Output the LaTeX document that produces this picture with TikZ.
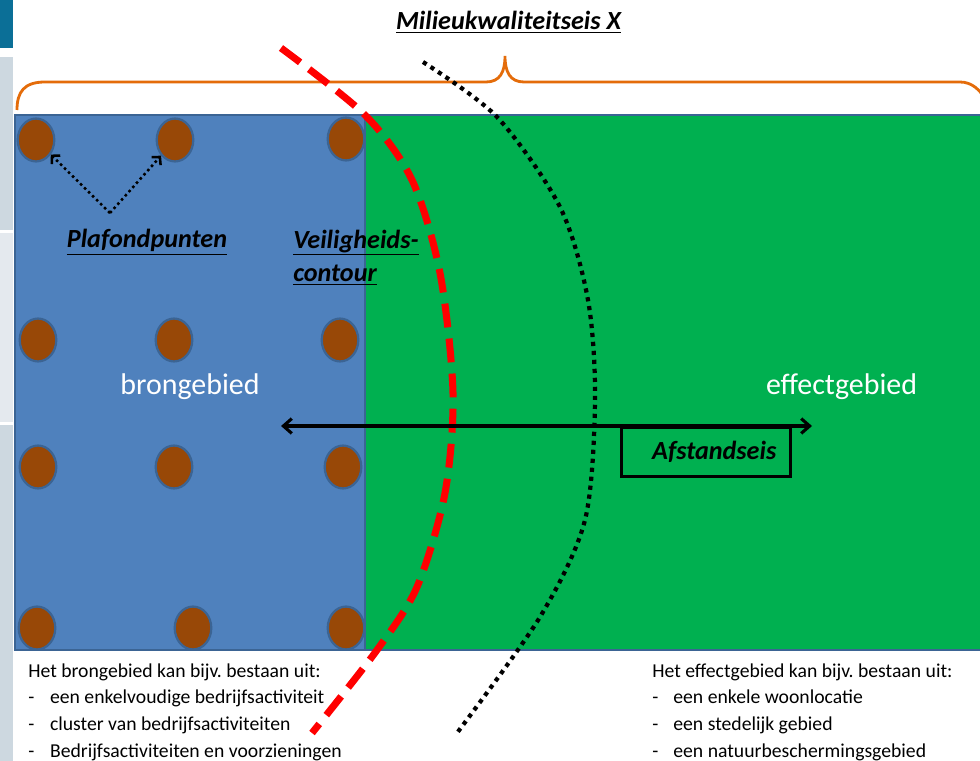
\documentclass[tikz,border=0pt]{standalone}
\usepackage{fontspec}
\setmainfont{Carlito}
\usepackage{tikz}
\usetikzlibrary{shapes,arrows.meta,positioning}
\definecolor{bronblauw}{HTML}{4F81BD}
\definecolor{randblauw}{HTML}{3B6494}
\definecolor{effectgroen}{HTML}{00B050}
\definecolor{puntbruin}{HTML}{984807}
\definecolor{accolade}{HTML}{E46C0A}
\definecolor{balkblauw}{HTML}{0B6F97}
\definecolor{balkgrijs}{HTML}{CDD8E0}
\definecolor{balklicht}{HTML}{E4E9EE}
\newcommand{\kopfont}{\fontsize{18.6}{24}\selectfont\bfseries\itshape}
\frenchspacing

\tikzset{
  punt/.style={ellipse, fill=puntbruin, draw=randblauw, line width=1.6pt,
    minimum width=26pt, minimum height=30.5pt, inner sep=0pt},
  kop/.style={font=\kopfont, inner sep=0pt, align=left},
  gebied/.style={white, font=\fontsize{21.3}{24}\selectfont, inner sep=0pt},
  lijst/.style={font=\fontsize{14}{18.9}\selectfont, inner sep=0pt, align=left}
}

\begin{document}
\begin{tikzpicture}[x=0.025cm, y=-0.025cm]
\def\xbron{365}
\def\ytop{115}
\def\ybot{650}
\clip (0,0) rectangle (980,761);

% balk links
\fill[balkblauw] (0,0) rectangle (13,48);
\fill[balkgrijs] (0,57) rectangle (13,230);
\fill[balklicht] (0,233) rectangle (13,422);
\fill[balkgrijs] (0,425) rectangle (13,761);

% brongebied en effectgebied
\draw[line width=2pt, draw=randblauw, fill=effectgroen] (\xbron,\ytop) rectangle (990,\ybot);
\draw[line width=2pt, draw=randblauw, fill=bronblauw] (15,\ytop) rectangle (\xbron,\ybot);

% accolade
\draw[accolade, line width=2pt] (17,110) .. controls (17,92) and (24,82) .. (45,82) -- (486,82)
  .. controls (500,82) and (505,72) .. (505,56) .. controls (505,72) and (510,82) .. (524,82)
  -- (960,82) .. controls (972,82) and (980,90) .. (986,100);

% plafondpunten
\foreach \n/\x/\y in {1/36/140, 2/175/140, 3/346/139,
                      4/38/340, 5/174/340, 6/340/340,
                      7/38/467, 8/174/467, 9/343/467,
                      10/37/628, 11/193/628, 12/346/628}
  \node[punt] (p\n) at (\x,\y) {};

% teksten
\node[kop, anchor=base] (titel) at (508.5,30) {\underline{Milieukwaliteitseis X}};
\node[kop, anchor=base] (plafond) at (147,248) {\underline{Plafondpunten}};
\node[kop, anchor=base west] (contour) at (293,282) {\underline{Veiligheids-}\\\underline{contour}};
\node[gebied, anchor=base] (bron) at (190,394) {brongebied};
\node[gebied, anchor=base] (effect) at (841.5,394) {effectgebied};

% pijlen naar plafondpunten
\coordinate (v) at (110,213);
\draw[line width=1.8pt, dash pattern=on 1.8pt off 2.2pt, -{Straight Barb[length=4pt,width=8.5pt]}] (v) -- (p1);
\draw[line width=1.8pt, dash pattern=on 1.8pt off 2.2pt, -{Straight Barb[length=4pt,width=8.5pt]}] (v) -- (p2);

% veiligheidscontour
\draw[red, line width=5pt, dash pattern=on 17pt off 8pt] plot[smooth] coordinates
  {(281,48) (365,115) (412,180) (440,273) (453,393) (445,493) (417,587) (377,650) (312,733)};
% milieucontour
\draw[black, line width=3pt, dash pattern=on 3pt off 3.4pt] plot[smooth] coordinates
  {(423,62) (497,117) (560,207) (588,300) (595,400) (585,520) (540,617) (457,733)};

% afstandseis
\node[kop, draw, line width=2pt, text width=100pt, align=right, inner xsep=9.9pt,
  minimum height=34.7pt, anchor=north] (eis) at (706,426) {Afstandseis};
\coordinate (links) at (281,426);
\coordinate (rechts) at (812,426);
\draw[line width=2.2pt, {Straight Barb[length=6pt,width=10.5pt]}-{Straight Barb[length=6pt,width=10.5pt]}] (links) -- (rechts);

% toelichting
\node[lijst, anchor=base west] (lijstbron) at (28,757)
  {Het brongebied kan bijv. bestaan uit:\\
   \makebox[15.5pt][l]{-}een enkelvoudige bedrijfsactiviteit\\
   \makebox[15.5pt][l]{-}cluster van bedrijfsactiviteiten\\
   \makebox[15.5pt][l]{-}Bedrijfsactiviteiten en voorzieningen};
\node[lijst, anchor=base west] (lijsteffect) at (652,757)
  {Het effectgebied kan bijv. bestaan uit:\\
   \makebox[15pt][l]{-}een enkele woonlocatie\\
   \makebox[15pt][l]{-}een stedelijk gebied\\
   \makebox[15pt][l]{-}een natuurbeschermingsgebied};
\end{tikzpicture}
\end{document}
